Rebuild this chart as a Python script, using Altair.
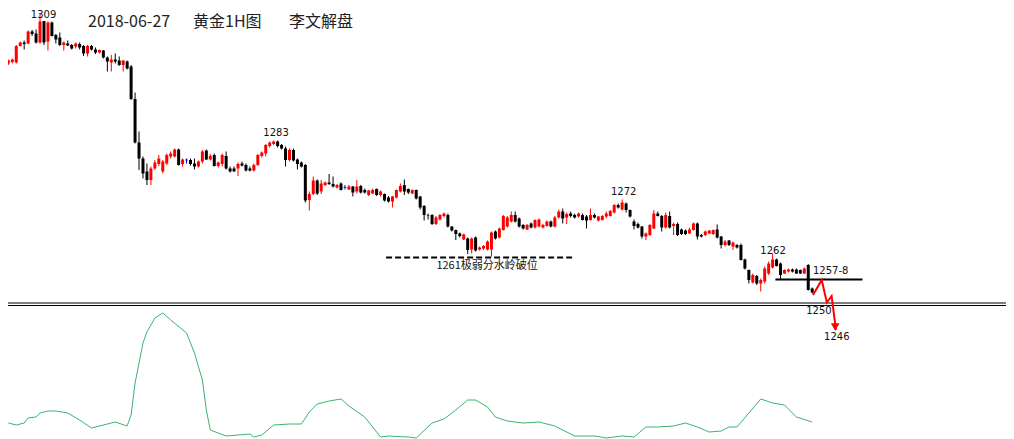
import altair as alt
import pandas as pd
import numpy as np

# ---------------- candle data (hourly gold, index = bar number) ----------------
opens = [
1299.1,1299.4,1299.3,1302.6,1303.3,1303.1,1305.5,1305.1,1303.3,1307.6,
1303.5,1307.3,1304.8,1304.3,1302.8,1303.1,1302.8,1302.5,1303.0,1302.6,
1301.1,1302.6,1301.9,1301.3,1301.7,1300.3,1299.3,1299.9,1299.7,1298.8,
1299.5,1298.5,1292.0,1283.3,1280.1,1277.5,1275.8,1278.1,1279.0,1277.5,
1279.1,1280.5,1280.5,1281.9,1279.0,1279.8,1279.8,1279.1,1278.5,1279.5,
1281.7,1279.9,1280.8,1278.6,1279.0,1280.6,1278.1,1278.1,1278.1,1279.1,
1278.8,1278.1,1277.7,1278.8,1280.6,1281.1,1282.6,1283.0,1283.5,1282.8,
1282.1,1279.8,1281.8,1279.9,1279.3,1278.8,1271.8,1273.0,1275.7,1273.5,
1274.8,1275.3,1275.0,1274.3,1275.1,1274.3,1273.9,1274.5,1273.5,1274.6,
1273.8,1272.8,1273.1,1274.0,1272.8,1273.0,1272.3,1271.5,1272.3,1273.5,
1274.8,1274.0,1273.1,1273.8,1272.5,1270.6,1268.8,1268.8,1267.0,1267.9,
1268.6,1268.8,1266.5,1265.8,1265.1,1263.9,1264.1,1261.9,1264.3,1261.9,
1262.1,1261.9,1261.9,1265.5,1264.3,1265.8,1266.5,1267.5,1268.8,1268.1,
1266.8,1265.9,1267.1,1266.3,1266.5,1266.3,1266.6,1267.5,1266.5,1268.3,
1269.5,1268.3,1269.1,1268.8,1268.5,1268.8,1268.5,1267.8,1268.8,1267.7,
1267.8,1268.5,1268.6,1269.3,1270.8,1269.9,1271.1,1269.8,1267.5,1267.0,
1266.5,1264.5,1264.8,1266.1,1269.1,1268.6,1266.3,1268.6,1266.6,1267.0,
1265.9,1265.7,1265.1,1265.8,1267.1,1264.8,1264.8,1265.1,1265.0,1265.9,
1264.5,1262.8,1263.7,1262.5,1262.8,1262.8,1259.9,1257.8,1255.3,1256.6,
1255.1,1255.5,1257.1,1258.3,1259.9,1259.1,1257.1,1257.5,1257.9,1257.9,
1257.8,1257.1,1258.8,1254.1]
highs = [
1299.9,1300.1,1302.8,1303.5,1303.7,1305.7,1305.8,1305.9,1309.0,1307.6,
1307.5,1307.5,1305.0,1305.3,1303.5,1303.7,1303.0,1303.3,1303.3,1302.8,
1302.8,1302.8,1302.3,1301.9,1301.8,1300.5,1300.8,1301.1,1300.5,1299.8,
1299.7,1298.8,1293.3,1285.5,1280.5,1279.1,1278.5,1279.8,1280.8,1279.8,
1281.1,1281.5,1282.1,1282.1,1280.1,1280.1,1280.1,1280.1,1279.7,1281.8,
1281.9,1281.0,1281.1,1279.5,1281.1,1281.5,1278.5,1278.5,1279.3,1279.5,
1279.1,1278.5,1279.1,1281.0,1281.5,1283.0,1283.5,1283.7,1283.7,1283.0,
1282.5,1282.1,1282.1,1280.1,1279.5,1279.0,1273.5,1276.5,1275.9,1275.8,
1275.5,1277.0,1276.5,1275.0,1275.3,1274.8,1274.8,1274.6,1275.8,1274.8,
1274.1,1273.8,1274.1,1274.1,1273.7,1273.1,1272.6,1272.6,1273.9,1275.1,
1275.9,1274.1,1273.9,1273.9,1272.6,1270.8,1269.1,1269.0,1268.6,1269.0,
1269.3,1269.1,1266.6,1265.9,1265.3,1265.1,1264.3,1264.3,1264.5,1262.5,
1262.8,1263.7,1265.5,1265.7,1266.3,1268.8,1268.6,1269.5,1269.5,1268.3,
1267.0,1267.0,1267.3,1267.9,1268.1,1267.0,1267.7,1267.7,1268.6,1269.9,
1270.1,1269.3,1269.5,1269.1,1269.3,1269.1,1268.8,1270.1,1269.1,1268.6,
1268.8,1269.5,1269.8,1271.0,1271.1,1271.9,1271.3,1269.9,1267.9,1267.3,
1266.6,1265.3,1267.0,1269.8,1269.5,1268.8,1269.3,1269.5,1267.3,1267.3,
1266.1,1265.9,1266.3,1267.3,1267.3,1265.0,1265.7,1265.8,1265.9,1266.9,
1264.6,1263.8,1263.8,1263.5,1263.0,1263.1,1260.1,1257.9,1257.1,1256.8,
1256.1,1258.5,1259.5,1261.1,1260.1,1259.3,1257.9,1258.1,1258.1,1258.1,
1257.9,1258.3,1259.0,1254.3]
lows = [
1298.8,1299.1,1299.1,1302.5,1301.9,1303.0,1304.6,1303.1,1303.1,1302.8,
1301.7,1304.5,1303.1,1302.6,1301.7,1302.6,1301.9,1302.1,1301.9,1300.6,
1300.5,1301.7,1301.0,1301.1,1300.1,1297.5,1297.5,1299.1,1298.6,1297.5,
1297.9,1291.8,1283.1,1277.8,1276.1,1274.8,1274.8,1277.8,1278.6,1277.1,
1278.8,1280.1,1280.3,1278.7,1278.5,1279.1,1278.7,1277.9,1278.3,1279.1,
1279.8,1279.7,1278.5,1278.3,1278.5,1277.9,1277.3,1277.5,1276.6,1278.5,
1277.5,1277.5,1277.5,1278.6,1280.3,1280.5,1282.3,1282.8,1282.3,1281.9,
1278.5,1279.5,1279.5,1277.9,1278.3,1271.3,1269.7,1272.8,1272.8,1273.0,
1274.6,1274.8,1274.3,1274.1,1273.7,1273.9,1273.8,1272.5,1273.1,1273.1,
1273.1,1272.6,1273.0,1272.6,1272.5,1271.5,1271.3,1270.3,1272.1,1273.3,
1272.8,1273.0,1273.0,1271.9,1269.9,1267.7,1267.9,1266.8,1266.8,1267.7,
1268.3,1266.3,1265.5,1263.8,1264.3,1263.8,1261.0,1261.1,1261.5,1261.7,
1261.8,1261.7,1260.5,1263.9,1264.1,1265.7,1266.3,1267.3,1267.3,1266.3,
1265.9,1265.8,1266.1,1266.1,1266.3,1266.1,1266.5,1266.3,1266.3,1268.1,
1267.1,1267.0,1268.3,1268.1,1268.3,1267.7,1266.1,1267.7,1268.1,1267.5,
1267.7,1268.1,1268.5,1269.1,1270.1,1269.7,1269.3,1268.3,1265.9,1266.1,
1264.1,1263.8,1264.6,1266.0,1268.5,1265.5,1266.1,1266.1,1264.8,1264.6,
1264.8,1264.8,1265.0,1265.7,1263.9,1264.3,1264.6,1265.0,1264.8,1264.1,
1262.1,1262.5,1262.6,1261.8,1262.1,1259.7,1257.9,1255.1,1255.1,1254.8,
1253.5,1255.1,1256.8,1258.1,1258.5,1255.8,1257.0,1257.3,1257.3,1257.0,
1257.0,1257.0,1253.7,1253.1]
closes = [
1299.7,1299.9,1302.6,1303.3,1303.0,1305.5,1305.0,1303.3,1307.5,1303.3,
1307.3,1304.6,1303.9,1302.8,1303.3,1302.7,1302.1,1303.1,1302.3,1301.1,
1302.6,1301.9,1301.3,1301.8,1300.3,1299.5,1299.9,1299.5,1298.8,1299.7,
1298.1,1292.0,1283.3,1280.1,1277.1,1275.8,1278.1,1279.3,1280.1,1279.5,
1280.8,1281.1,1281.9,1278.8,1279.9,1279.8,1279.0,1278.5,1279.5,1281.5,
1279.9,1280.6,1278.6,1279.3,1280.8,1278.1,1277.5,1277.5,1279.0,1278.7,
1277.7,1277.7,1278.8,1280.8,1281.3,1282.8,1283.3,1283.5,1282.6,1282.1,
1279.8,1281.8,1279.7,1279.0,1278.5,1271.7,1273.0,1275.7,1273.1,1275.1,
1275.3,1275.0,1274.5,1274.8,1273.8,1274.3,1274.5,1273.3,1274.5,1273.3,
1273.3,1273.7,1273.8,1272.8,1273.5,1271.7,1271.5,1272.5,1273.8,1274.6,
1273.5,1273.3,1273.8,1272.1,1270.3,1268.8,1268.7,1267.0,1268.3,1268.8,
1269.1,1266.5,1265.7,1265.0,1264.6,1264.9,1261.8,1264.1,1261.7,1262.3,
1262.6,1263.5,1265.3,1264.1,1266.1,1268.6,1268.3,1268.8,1267.5,1266.5,
1266.1,1266.8,1266.3,1267.8,1267.9,1266.8,1267.5,1266.5,1268.3,1269.5,
1268.1,1269.0,1268.6,1268.3,1269.1,1267.8,1267.7,1268.8,1268.3,1268.5,
1268.6,1269.1,1269.6,1270.8,1270.3,1271.3,1269.8,1268.5,1266.6,1266.3,
1264.5,1265.1,1266.8,1269.1,1268.6,1266.3,1268.8,1266.3,1267.0,1264.8,
1265.0,1265.0,1265.9,1267.1,1264.5,1264.5,1265.5,1265.7,1265.8,1264.3,
1262.8,1263.5,1262.8,1263.3,1262.3,1259.8,1258.1,1255.8,1256.8,1255.1,
1255.8,1258.1,1259.1,1259.9,1258.6,1256.8,1257.8,1257.9,1257.5,1257.1,
1257.1,1258.1,1253.8,1253.3]
bar_index = list(range(len(opens)))

# ---------------- lower indicator (sampled at bar numbers) ----------------
ind_index = [0,2,4,5,7,8,10,12,15,18,21,24,27,30,31,32,34,35,37,39,
             41,45,47,49,50,51,53,55,58,61,62,64,67,71,74,76,78,81,84,86,
             90,92,94,96,101,103,107,110,113,116,118,121,123,126,130,134,138,143,148,151,
             155,158,161,164,168,171,174,177,180,182,184,187,190,193,196,199,203]
ind_value = [1.7,1.5,1.7,2.2,2.3,2.7,2.9,2.9,2.7,2.0,1.2,1.5,1.8,1.4,2.5,5.7,9.7,10.8,12.2,12.7,
             12.0,10.7,8.7,6.0,3.0,1.0,0.7,0.4,0.5,0.6,0.3,0.5,1.5,1.6,1.6,2.8,3.6,3.9,4.1,3.4,
             2.3,1.3,0.3,0.4,0.3,0.2,1.7,2.1,3.0,4.0,4.0,3.3,2.3,1.9,1.7,1.8,1.4,0.4,0.4,0.2,
             0.4,0.3,1.3,1.3,1.4,1.7,1.3,0.8,0.9,1.3,1.3,2.7,4.1,3.7,3.5,2.3,1.8]

# ---------------- annotations ----------------
title_parts = ["2018-06-27", "黄金1H图", "李文解盘"]
peak_index = [8.9, 67.6, 155.4, 193.1, 204.7, 209.2]
peak_price = [1308.2, 1284.6, 1272.8, 1261.0, 1249.0, 1243.8]
peak_text = ["1309", "1283", "1272", "1262", "1250", "1246"]
support_text = "1261极弱分水岭破位"
support_from, support_to, support_price = 95.4, 142.5, 1260.3
support_label_index, support_label_price = 120.9, 1258.0
resist_text = "1257-8"
resist_from, resist_to, resist_price = 193.7, 215.7, 1255.9
resist_label_index, resist_label_price = 203.2, 1257.0
path_index = [203.2, 205.4, 206.7, 207.9, 209.0]
path_price = [1252.8, 1255.8, 1251.3, 1252.6, 1245.8]
arrow_index, arrow_price = 208.8, 1246.4

# ---------------- build ----------------
W, H = 998, 431
FONT = "Noto Sans CJK SC"
NUMFONT = "DejaVu Sans"

df = pd.DataFrame({"i": bar_index, "open": opens, "high": highs, "low": lows, "close": closes})
df["dir"] = np.where(df["close"] > df["open"], "up", np.where(df["close"] < df["open"], "down", "flat"))

xs = alt.Scale(domain=[1.175, 250.675], nice=False, zero=False)
ys = alt.Scale(domain=[1224.0, 1310.2], nice=False, zero=False)
X = lambda f: alt.X(f, scale=xs, axis=None)
Y = lambda f: alt.Y(f, scale=ys, axis=None)
col = alt.Color("dir:N", scale=alt.Scale(domain=["up", "down", "flat"],
                                          range=["#ff0000", "#000000", "#0000ff"]), legend=None)

base = alt.Chart(df)
wick = base.mark_rule(strokeWidth=1).encode(x=X("i:Q"), y=Y("low:Q"), y2="high:Q", color=col)
body = base.mark_bar(size=3).encode(x=X("i:Q"), y=Y("open:Q"), y2="close:Q", color=col)
flat = base.transform_filter("datum.dir == 'flat'").mark_tick(
    orient="horizontal", size=3, thickness=1).encode(x=X("i:Q"), y=Y("close:Q"), color=col)

ind = pd.DataFrame({"i": ind_index, "v": ind_value})
ind_line = alt.Chart(ind).mark_line(color="#3cb371", strokeWidth=1).encode(
    x=X("i:Q"), y=alt.Y("v:Q", scale=alt.Scale(domain=[0.1, 43.2], nice=False, zero=False), axis=None))

one = pd.DataFrame({"a": [0]})
sep1 = alt.Chart(one).mark_rule(color="#000000", strokeWidth=1).encode(
    x=alt.value(0), x2=alt.value(W), y=alt.value(295))
sep2 = alt.Chart(one).mark_rule(color="#000000", strokeWidth=1).encode(
    x=alt.value(0), x2=alt.value(W), y=alt.value(297.5))

sup = alt.Chart(pd.DataFrame({"a": [support_from], "b": [support_to], "p": [support_price]})).mark_rule(
    color="#000000", strokeWidth=2, strokeDash=[6, 3]).encode(x=X("a:Q"), x2="b:Q", y=Y("p:Q"))
res = alt.Chart(pd.DataFrame({"a": [resist_from], "b": [resist_to], "p": [resist_price]})).mark_rule(
    color="#000000", strokeWidth=2).encode(x=X("a:Q"), x2="b:Q", y=Y("p:Q"))

path = alt.Chart(pd.DataFrame({"i": path_index, "p": path_price})).mark_line(
    color="#ff0000", strokeWidth=2).encode(x=X("i:Q"), y=Y("p:Q"))
arrow = alt.Chart(pd.DataFrame({"i": [arrow_index], "p": [arrow_price]})).mark_point(
    shape="triangle-down", filled=True, size=75, color="#ff0000", opacity=1).encode(x=X("i:Q"), y=Y("p:Q"))

peaks = alt.Chart(pd.DataFrame({"i": peak_index, "p": peak_price, "t": peak_text})).mark_text(
    font=NUMFONT, fontSize=10, color="#111111", align="center", baseline="alphabetic").encode(
    x=X("i:Q"), y=Y("p:Q"), text="t:N")
sup_txt = alt.Chart(pd.DataFrame({"i": [support_label_index], "p": [support_label_price], "t": [support_text]})).mark_text(
    font=FONT, fontSize=11, color="#111111", align="center", baseline="alphabetic").encode(
    x=X("i:Q"), y=Y("p:Q"), text="t:N")
res_txt = alt.Chart(pd.DataFrame({"i": [resist_label_index], "p": [resist_label_price], "t": [resist_text]})).mark_text(
    font=NUMFONT, fontSize=10, color="#111111", align="left", baseline="alphabetic").encode(
    x=X("i:Q"), y=Y("p:Q"), text="t:N")

title_layers = []
for txt, px in zip(title_parts, [80, 185, 281]):
    title_layers.append(alt.Chart(one).mark_text(
        text=txt, font=FONT, fontSize=16, color="#222222", align="left", baseline="middle").encode(
        x=alt.value(px), y=alt.value(14)))

chart = alt.layer(wick, body, flat, ind_line, sep1, sep2, sup, res, path, arrow,
                  peaks, sup_txt, res_txt, *title_layers).resolve_scale(y="independent").properties(
    width=W, height=H, padding=0, autosize=alt.AutoSizeParams(type="none")
).configure_view(stroke=None)

chart.save("out.html", embed_options={"renderer": "svg", "actions": False})
